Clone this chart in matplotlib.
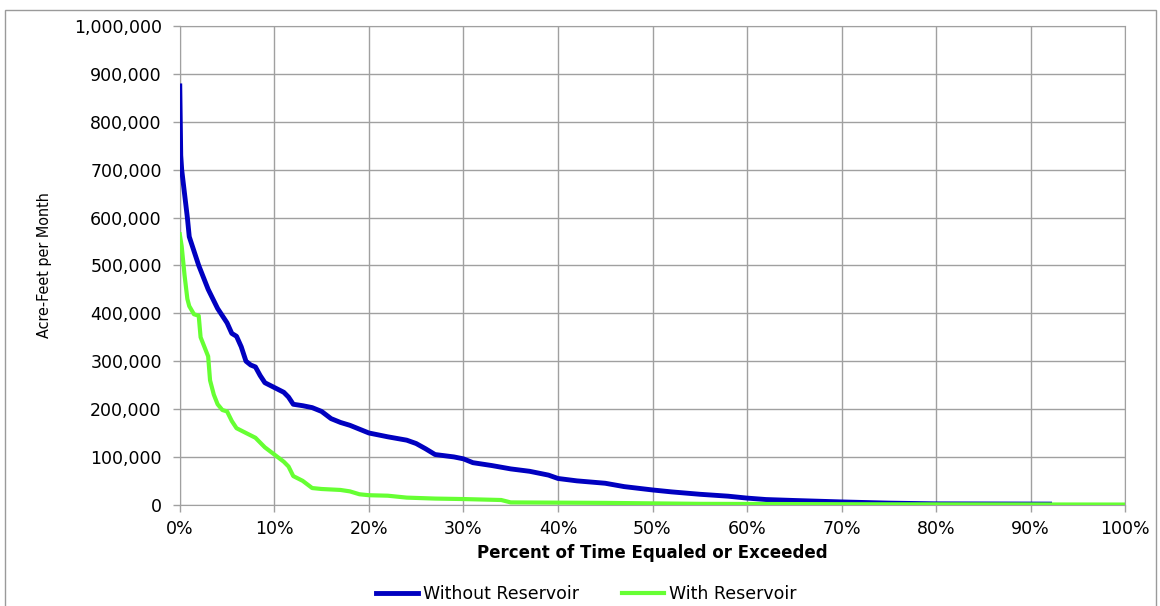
import matplotlib.pyplot as plt
from matplotlib.patches import Rectangle
from matplotlib.ticker import FuncFormatter

# Percent of time equaled or exceeded vs acre-feet per month
pct_without = [0, 0.1, 0.2, 0.5, 0.8, 1.0, 1.5, 2.0, 2.5, 3.0, 3.5, 4.0, 4.5, 5.0, 5.5, 6.0, 6.5,
               7.0, 7.5, 8.0, 8.5, 9.0, 10, 11, 11.5, 12, 13, 14, 15, 16, 17, 18, 19, 20, 22,
               24, 25, 26, 27, 29, 30, 31, 33, 35, 37, 39, 40, 42, 45, 47, 50, 52, 55, 58,
               60, 62, 65, 70, 75, 80, 92]
acft_without = [875000, 730000, 700000, 650000, 600000, 560000, 530000, 500000, 475000, 450000,
                430000, 410000, 395000, 380000, 358000, 352000, 330000, 300000, 292000, 288000,
                270000, 255000, 245000, 235000, 225000, 210000, 207000, 203000, 195000, 180000,
                172000, 166000, 158000, 150000, 142000, 135000, 128000, 117000, 105000, 100000,
                96000, 88000, 82000, 75000, 70000, 62000, 55000, 50000, 45000, 38000, 31000,
                27000, 22000, 18000, 14000, 11000, 9000, 6000, 3500, 2000, 1500]

pct_with = [0, 0.2, 0.5, 0.8, 1.0, 1.5, 2.0, 2.2, 2.6, 3.0, 3.2, 3.6, 4.0, 4.5, 5.0, 5.5, 6.0,
            7.0, 8.0, 9.0, 10, 11, 11.5, 12, 13, 14, 15, 17, 18, 19, 20, 22, 24, 27, 30, 34,
            35, 45, 55, 75, 100]
acft_with = [565000, 540000, 480000, 430000, 415000, 398000, 395000, 350000, 330000, 310000,
             260000, 230000, 210000, 198000, 195000, 175000, 160000, 150000, 140000, 120000,
             105000, 90000, 80000, 60000, 50000, 35000, 33000, 31000, 28000, 22000, 20000,
             19000, 15000, 13000, 12000, 10000, 5000, 4000, 2000, 1000, 500]

fig = plt.figure(figsize=(11.6, 6.06), dpi=100)
ax = fig.add_axes([0.155, 0.167, 0.815, 0.79])

# outer chart border
fig.patches.append(Rectangle((5 / 1160, -0.01), 1151 / 1160, 1 - 10 / 606 + 0.01,
                             transform=fig.transFigure, fill=False,
                             edgecolor='#9a9a9a', linewidth=1))

ax.plot(pct_without, acft_without, color='#0000C0', linewidth=3.5, label='Without Reservoir',
        zorder=3)
ax.plot(pct_with, acft_with, color='#66FF33', linewidth=3, label='With Reservoir', zorder=3)

ax.set_xlim(0, 100)
ax.set_ylim(0, 1000000)
ax.set_xticks(range(0, 101, 10))
ax.set_yticks(range(0, 1000001, 100000))
ax.xaxis.set_major_formatter(FuncFormatter(lambda v, p: f'{int(v)}%'))
ax.yaxis.set_major_formatter(FuncFormatter(lambda v, p: f'{int(v):,}'))
ax.grid(True, color='#a0a0a0', linewidth=1)
ax.set_axisbelow(True)
for s in ax.spines.values():
    s.set_color('#a0a0a0')
ax.tick_params(axis='both', colors='#a0a0a0', labelcolor='black', labelsize=12.5,
               length=5, width=1)
ax.tick_params(axis='y', pad=8)
ax.tick_params(axis='x', pad=6)

ax.set_xlabel('Percent of Time Equaled or Exceeded', fontsize=12, fontweight='bold', labelpad=4)
ax.set_ylabel('Acre-Feet per Month', fontsize=11.5, fontstretch='condensed', labelpad=16)

ax.legend(loc='upper center', bbox_to_anchor=(0.43, -0.135), ncol=2, frameon=False,
          fontsize=12.5, handlelength=2.4, columnspacing=2.5, handletextpad=0.3)

plt.savefig('out.png', dpi=100)
